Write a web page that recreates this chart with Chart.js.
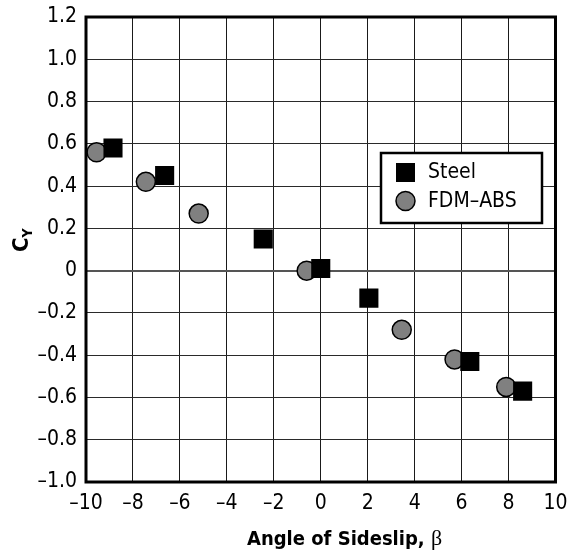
<!DOCTYPE html>
<html>
<head>
<meta charset="utf-8">
<script src="https://cdn.jsdelivr.net/npm/chart.js@4.4.1/dist/chart.umd.min.js"></script>
<style>
  html, body { margin: 0; padding: 0; background: #fff; }
  #wrap { width: 569px; height: 555px; }
</style>
</head>
<body>
<div id="wrap"><canvas id="chart"></canvas></div>
<script>
// sideslip angle (deg) and side-force coefficient
const steelBeta = [-8.85, -6.65, -2.45, 0.0, 2.05, 6.35, 8.6];
const steelCy = [0.58, 0.45, 0.15, 0.01, -0.13, -0.43, -0.57];
const absBeta = [-9.55, -7.45, -5.2, -0.6, 3.45, 5.7, 7.9];
const absCy = [0.56, 0.42, 0.27, 0.0, -0.28, -0.42, -0.55];
const xTicks = [-10, -8, -6, -4, -2, 0, 2, 4, 6, 8, 10];
const yTicks = [-1.0, -0.8, -0.6, -0.4, -0.2, 0, 0.2, 0.4, 0.6, 0.8, 1.0, 1.2];

const FONT = "'Liberation Sans Narrow', 'DejaVu Sans Condensed', 'Liberation Sans', Arial, sans-serif";
const dash = v => (v < 0 ? '\u2013' : '') + Math.abs(v);

const toPts = (xs, ys) => xs.map((x, i) => ({ x, y: ys[i] }));

// frame, axis titles and the legend box
const decor = {
    id: 'decor',
    afterDraw(chart) {
        const { ctx, chartArea: a } = chart;
        ctx.save();
        ctx.strokeStyle = '#000';
        ctx.lineWidth = 3;
        ctx.strokeRect(a.left, a.top, a.right - a.left, a.bottom - a.top);

        // x title: bold text + serif beta
        ctx.fillStyle = '#000';
        ctx.textBaseline = 'alphabetic';
        ctx.textAlign = 'left';
        const t1 = 'Angle of Sideslip, ';
        ctx.font = "bold 20px " + FONT;
        const w1 = ctx.measureText(t1).width;
        const x0 = 247;
        ctx.fillText(t1, x0, 545);
        ctx.font = "22px 'Liberation Serif', serif";
        ctx.fillText('\u03b2', x0 + w1, 545);

        // y title: C with subscript Y
        ctx.translate(28, 252);
        ctx.rotate(-Math.PI / 2);
        ctx.font = "bold 22px " + FONT;
        ctx.fillText('C', 0, 0);
        const wc = ctx.measureText('C').width;
        ctx.font = "bold 14px " + FONT;
        ctx.fillText('Y', wc, 4);
        ctx.restore();

        // legend
        const L = 381, T = 153, W = 161, H = 70;
        ctx.save();
        ctx.fillStyle = '#fff';
        ctx.fillRect(L, T, W, H);
        ctx.strokeStyle = '#000';
        ctx.lineWidth = 2.5;
        ctx.strokeRect(L, T, W, H);
        ctx.fillStyle = '#000';
        ctx.fillRect(396, 163, 19, 19);
        ctx.beginPath();
        ctx.arc(405.5, 201, 9.5, 0, Math.PI * 2);
        ctx.fillStyle = '#808080';
        ctx.fill();
        ctx.lineWidth = 1.5;
        ctx.stroke();
        ctx.fillStyle = '#000';
        ctx.font = "21px " + FONT;
        ctx.textBaseline = 'middle';
        ctx.fillText(chart.data.datasets[0].label, 428, 173);
        ctx.fillText(chart.data.datasets[1].label, 428, 202);
        ctx.restore();
    }
};

new Chart(document.getElementById('chart'), {
    type: 'scatter',
    data: {
        datasets: [
            {
                label: 'Steel',
                data: toPts(steelBeta, steelCy),
                pointStyle: 'rect',
                pointRadius: 13.5,
                backgroundColor: '#000',
                borderColor: '#000',
                borderWidth: 0
            },
            {
                label: 'FDM\u2013ABS',
                data: toPts(absBeta, absCy),
                pointStyle: 'circle',
                pointRadius: 9.5,
                backgroundColor: '#808080',
                borderColor: '#000',
                borderWidth: 1.5
            }
        ]
    },
    options: {
        responsive: true,
        maintainAspectRatio: false,
        animation: false,
        layout: { padding: { top: 17, right: 13, left: 0, bottom: 0 } },
        plugins: { legend: { display: false }, tooltip: { enabled: false } },
        scales: {
            x: {
                type: 'linear',
                min: -10, max: 10,
                afterBuildTicks: s => { s.ticks = xTicks.map(v => ({ value: v })); },
                afterFit: s => { s.height = 73; s.paddingLeft = 0; s.paddingRight = 0; },
                grid: {
                    color: '#1a1a1a', lineWidth: 1, drawTicks: false
                },
                border: { display: false },
                ticks: {
                    padding: 9,
                    color: '#000',
                    font: { family: FONT, size: 21 },
                    callback: v => dash(v)
                }
            },
            y: {
                type: 'linear',
                min: -1.0, max: 1.2,
                afterBuildTicks: s => { s.ticks = yTicks.map(v => ({ value: v })); },
                afterFit: s => { s.width = 86; s.paddingTop = 0; s.paddingBottom = 0; },
                grid: {
                    color: c => c.tick && Math.abs(c.tick.value) < 1e-9 ? '#555' : '#2a2a2a',
                    lineWidth: c => c.tick && Math.abs(c.tick.value) < 1e-9 ? 2 : 1,
                    drawTicks: false
                },
                border: { display: false },
                ticks: {
                    padding: 9,
                    color: '#000',
                    font: { family: FONT, size: 21 },
                    callback: v => Math.abs(v) < 1e-9 ? '0' : (v < 0 ? '\u2013' : '') + Math.abs(v).toFixed(1)
                }
            }
        }
    },
    plugins: [decor]
});
</script>
</body>
</html>
